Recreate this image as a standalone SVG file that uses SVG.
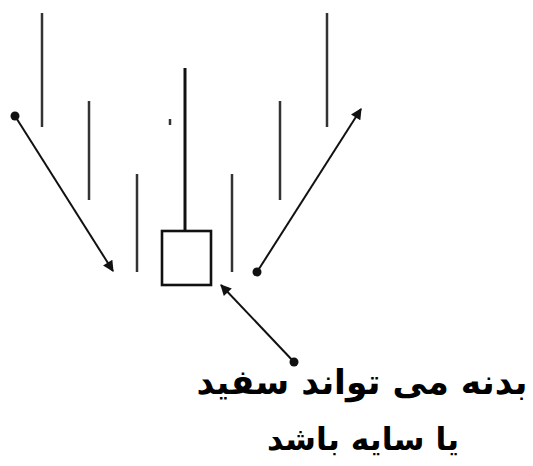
<svg xmlns="http://www.w3.org/2000/svg" width="533" height="466" viewBox="0 0 533 466">
<defs>
<marker id="ah" viewBox="0 0 10 10" refX="9" refY="5" markerWidth="6.5" markerHeight="5.5" markerUnits="strokeWidth" orient="auto">
<path d="M0,0 L10,5 L0,10 z" fill="#111"/>
</marker>
<style>
.bar{stroke:#333;stroke-width:2.5;fill:none}
.conn{stroke:#111;stroke-width:2;fill:none;marker-end:url(#ah)}
.dot{fill:#111}
.lbl{font-family:"DejaVu Sans","Liberation Sans",sans-serif;font-weight:bold;fill:#000;text-anchor:middle}
</style>
</defs>
<rect width="533" height="466" fill="#fff"/>
<g id="bars">
<line class="bar" x1="42" y1="13" x2="42" y2="127"/>
<line class="bar" x1="89" y1="101" x2="89" y2="200"/>
<line class="bar" x1="137" y1="174" x2="137" y2="272"/>
<line class="bar" x1="232" y1="174" x2="232" y2="272"/>
<line class="bar" x1="280" y1="101" x2="280" y2="200"/>
<line class="bar" x1="327" y1="13" x2="327" y2="127"/>
<line class="bar" x1="170" y1="119" x2="170" y2="125" stroke-width="1"/>
</g>
<g id="candle">
<line x1="185" y1="68" x2="185" y2="231" stroke="#111" stroke-width="3"/>
<rect x="162" y="231" width="49" height="54" fill="#fff" stroke="#111" stroke-width="2.6"/>
</g>
<g id="connectors">
<circle class="dot" cx="15" cy="116" r="4.5"/>
<line class="conn" x1="15" y1="116" x2="113" y2="271"/>
<circle class="dot" cx="257" cy="272" r="4.5"/>
<line class="conn" x1="257" y1="272" x2="361" y2="109"/>
<circle class="dot" cx="294" cy="362" r="4.5"/>
<line class="conn" x1="294" y1="362" x2="221" y2="285"/>
</g>
<g id="label">
<text class="lbl" x="362" y="394" font-size="34.5" direction="rtl">بدنه می تواند سفید</text>
<text class="lbl" x="363" y="450" font-size="31.5" direction="rtl">یا سایه باشد</text>
</g>
</svg>
